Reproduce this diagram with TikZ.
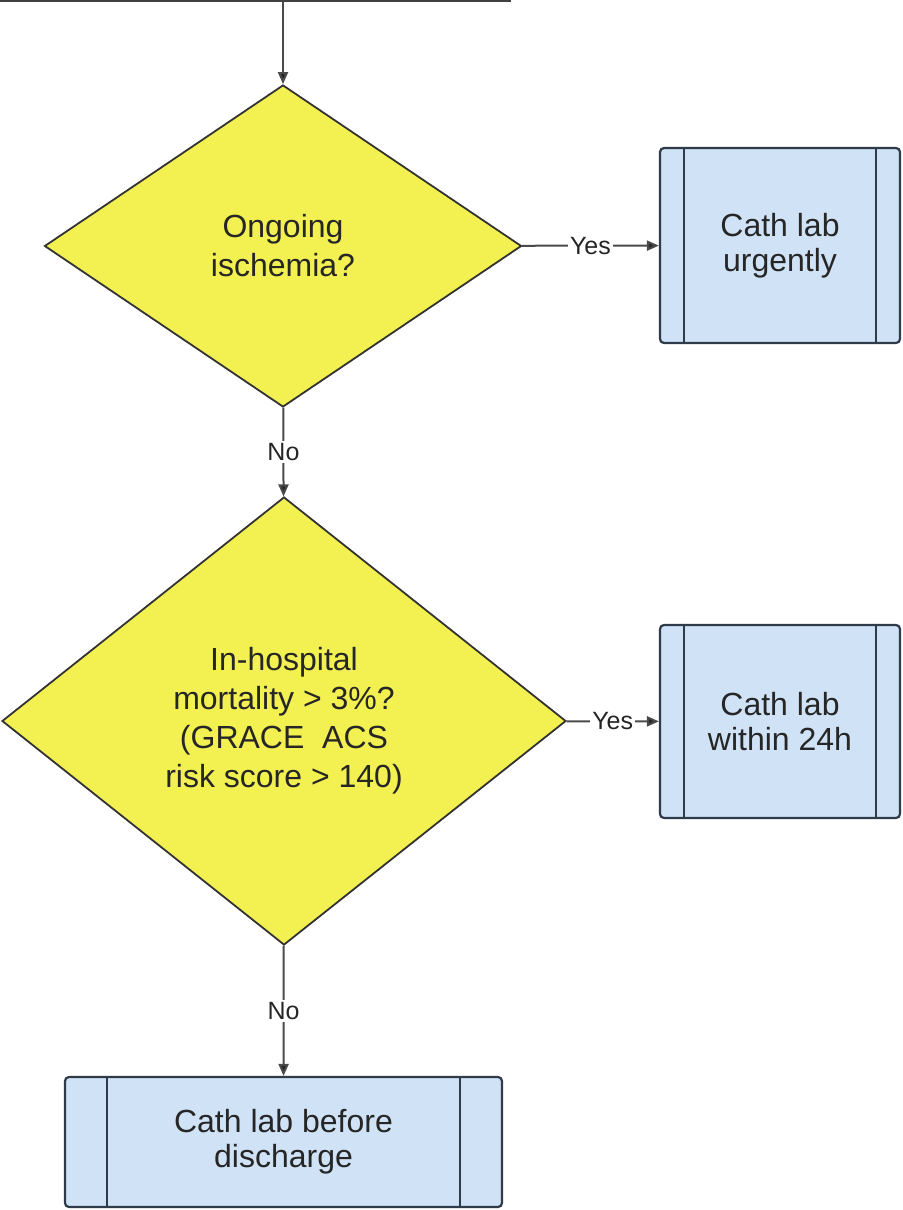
\documentclass[tikz,border=0pt]{standalone}
\usepackage{fontspec}
\setmainfont{Liberation Sans}
\usetikzlibrary{shapes.geometric,arrows.meta}
\definecolor{decfill}{HTML}{F3F051}
\definecolor{procfill}{HTML}{CFE2F6}
\definecolor{procline}{HTML}{2F3B48}
\definecolor{linkgray}{HTML}{4A4A4A}
\begin{document}
\begin{tikzpicture}[x=0.5pt,y=-0.5pt,
    decision/.style={diamond,draw=black!80,line width=0.9pt,fill=decfill,inner sep=0pt,align=center,text=black!85,font=\fontsize{16}{19.5}\selectfont},
    process/.style={rectangle,rounded corners=2pt,draw=procline,line width=1.1pt,fill=procfill,inner sep=0pt,align=center,text=black!85,font=\fontsize{16}{17.5}\selectfont},
    link/.style={draw=linkgray,line width=1pt,-{Triangle[length=6pt,width=5pt,fill=black!85]}},
    answer/.style={fill=white,inner sep=1pt,text=black!85,font=\fontsize{12.5}{14}\selectfont}]
    \useasboundingbox (0,0) rectangle (903,1210);
    \clip (0,0) rectangle (903,1210);

    % box above, cut off by the page
    \draw [draw=black!75,line width=1.4pt] (-20,-100) rectangle (510,1);
    \coordinate (top) at (283,1);

    \node [decision,minimum width=238.5pt,minimum height=161pt] (ischemia) at (283,246) {Ongoing\\ischemia?};
    \node [decision,minimum width=282pt,minimum height=224pt] (grace) at (284,721) {In-hospital\\mortality > 3\%?\\(GRACE~~ACS\\risk score > 140)};

    \node [process,minimum width=120pt,minimum height=97.5pt] (urgent) at (780,245.5) {Cath lab\\urgently};
    \node [process,minimum width=120pt,minimum height=96.5pt] (early) at (780,721.5) {Cath lab\\within 24h};
    \node [process,minimum width=218.5pt,minimum height=65pt] (discharge) at (283.5,1142) {Cath lab before\\discharge};

    % side bars of the process boxes
    \foreach \n/\d in {urgent/12.5pt,early/12.5pt,discharge/21.5pt}{
        \draw [procline,line width=1pt] ([xshift=\d]\n.north west) -- ([xshift=\d]\n.south west);
        \draw [procline,line width=1pt] ([xshift=-\d]\n.north east) -- ([xshift=-\d]\n.south east);
    }

    \draw [link] (top) -- (ischemia);
    \draw [link] (ischemia) -- node[answer] {Yes} (urgent);
    \draw [link] (ischemia) -- node[answer] {No} (grace);
    \draw [link] (grace) -- node[answer] {Yes} (early);
    \draw [link] (grace) -- node[answer] {No} (discharge);

\end{tikzpicture}
\end{document}
